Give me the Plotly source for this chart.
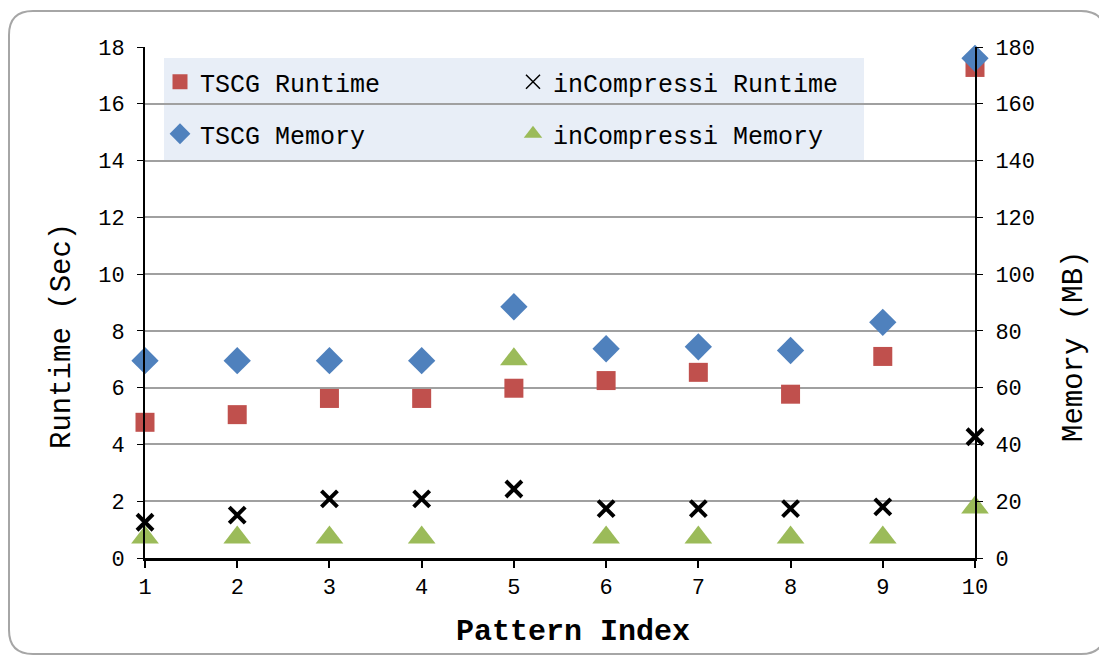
import plotly.graph_objects as go

pattern_index = [1, 2, 3, 4, 5, 6, 7, 8, 9, 10]
tscg_runtime = [4.78, 5.05, 5.62, 5.62, 5.98, 6.25, 6.54, 5.77, 7.1, 17.28]
incomp_runtime = [1.26, 1.51, 2.08, 2.08, 2.43, 1.74, 1.74, 1.74, 1.8, 4.27]
tscg_memory = [69.5, 69.5, 69.5, 69.5, 88.5, 73.7, 74.4, 73.1, 83.0, 176.0]
incomp_memory = [7.2, 7.2, 7.2, 7.2, 70.0, 7.2, 7.2, 7.2, 7.2, 17.8]

OFF = 8  # page body margin
W, H = 1107 - OFF, 657 - OFF
L, R, T, B = 145 - OFF, 975 - OFF, 47 - OFF, 558 - OFF
MONO = "Courier New, Liberation Mono, monospace"


def px(x):
    # x given in screenshot pixels
    return (x - OFF - L) / (R - L)


def py(y):
    return (B - (y - OFF)) / (B - T)


RED, BLUE, GREEN = "#C0504D", "#4F81BD", "#9BBB59"

fig = go.Figure()
fig.add_trace(go.Scatter(x=pattern_index, y=tscg_runtime, mode="markers",
                         name="TSCG Runtime", showlegend=False, cliponaxis=False,
                         marker=dict(symbol="square", size=19, color=RED)))
fig.add_trace(go.Scatter(x=pattern_index, y=incomp_runtime, mode="markers",
                         name="inCompressi Runtime", showlegend=False, cliponaxis=False,
                         marker=dict(symbol="x-thin", size=16, color="black",
                                     line=dict(width=4, color="black"))))
fig.add_trace(go.Scatter(x=pattern_index, y=tscg_memory, mode="markers",
                         name="TSCG Memory", yaxis="y2", showlegend=False, cliponaxis=False,
                         marker=dict(symbol="diamond", size=21, color=BLUE)))
fig.add_trace(go.Scatter(x=pattern_index, y=incomp_memory, mode="markers",
                         name="inCompressi Memory", yaxis="y2", showlegend=False,
                         cliponaxis=False,
                         marker=dict(symbol="triangle-up", size=24, color=GREEN)))

# legend entries (smaller symbols, as in the reference legend)
legend_items = [
    ("TSCG Runtime", "legend", dict(symbol="square", size=15, color=RED)),
    ("inCompressi Runtime", "legend", dict(symbol="x-thin", size=14, color="black",
                                           line=dict(width=1.5, color="black"))),
    ("TSCG Memory", "legend2", dict(symbol="diamond", size=16, color=BLUE)),
    ("inCompressi Memory", "legend2", dict(symbol="triangle-up", size=19, color=GREEN)),
]
for name, leg, mk in legend_items:
    fig.add_trace(go.Scatter(x=[None], y=[None], mode="markers", name=name,
                             legend=leg, marker=mk, hoverinfo="skip"))

# rounded outer frame (screenshot pixel coords)
x0, y0, x1, y1, r = 9, 11, 1105, 654, 24
path = (f"M {px(x0 + r)},{py(y0)} L {px(x1 - r)},{py(y0)} "
        f"Q {px(x1)},{py(y0)} {px(x1)},{py(y0 + r)} "
        f"L {px(x1)},{py(y1 - r)} Q {px(x1)},{py(y1)} {px(x1 - r)},{py(y1)} "
        f"L {px(x0 + r)},{py(y1)} Q {px(x0)},{py(y1)} {px(x0)},{py(y1 - r)} "
        f"L {px(x0)},{py(y0 + r)} Q {px(x0)},{py(y0)} {px(x0 + r)},{py(y0)} Z")

shapes = [
    dict(type="path", path=path, xref="paper", yref="paper",
         line=dict(color="#A6A6A6", width=2), layer="below"),
    dict(type="rect", xref="paper", yref="paper",
         x0=px(164), x1=px(864), y0=py(58), y1=py(160),
         fillcolor="#E8EEF7", line=dict(width=0), layer="below"),
]

title_font = dict(family=MONO, size=29, color="black")
annotations = [
    dict(text="Runtime (Sec)", xref="paper", yref="paper", x=px(62), y=py(336),
         showarrow=False, textangle=-90, font=title_font,
         xanchor="center", yanchor="middle"),
    dict(text="Memory (MB)", xref="paper", yref="paper", x=px(1074), y=py(347),
         showarrow=False, textangle=-90, font=title_font,
         xanchor="center", yanchor="middle"),
    dict(text="<b>Pattern Index</b>", xref="paper", yref="paper", x=px(573), y=py(632),
         showarrow=False, font=dict(family=MONO, size=30, color="black"),
         xanchor="center", yanchor="middle"),
]

tickfont = dict(family=MONO, size=22, color="black")
legfont = dict(family=MONO, size=25, color="black")

fig.update_layout(
    width=W, height=H,
    margin=dict(l=L, r=W - R, t=T, b=H - B),
    paper_bgcolor="white", plot_bgcolor="rgba(0,0,0,0)",
    showlegend=True,
    shapes=shapes,
    annotations=annotations,
    xaxis=dict(range=[1, 10], dtick=1, tick0=1, showgrid=False, zeroline=False,
               showline=True, linecolor="black", linewidth=3,
               ticks="outside", ticklen=7, tickwidth=2, tickcolor="black",
               tickfont=tickfont),
    yaxis=dict(range=[0, 18], dtick=2, showgrid=True, gridcolor="#A0A0A0",
               gridwidth=1.5, zeroline=False, showline=True, linecolor="black",
               linewidth=2, ticks="outside", ticklen=6, tickcolor="black",
               tickfont=tickfont, ticklabelstandoff=8),
    yaxis2=dict(range=[0, 180], dtick=20, overlaying="y", side="right",
                showgrid=False, zeroline=False, showline=True, linecolor="black",
                linewidth=2, ticks="outside", ticklen=6, tickcolor="black",
                tickfont=tickfont, ticklabelstandoff=8),
    legend=dict(orientation="h", x=px(160), y=py(59), xanchor="left", yanchor="top",
                bgcolor="rgba(0,0,0,0)", font=legfont, entrywidth=308,
                entrywidthmode="pixels", itemwidth=30),
    legend2=dict(orientation="h", x=px(160), y=py(111), xanchor="left", yanchor="top",
                 bgcolor="rgba(0,0,0,0)", font=legfont, entrywidth=308,
                 entrywidthmode="pixels", itemwidth=30),
)

fig.write_html("out.html")
